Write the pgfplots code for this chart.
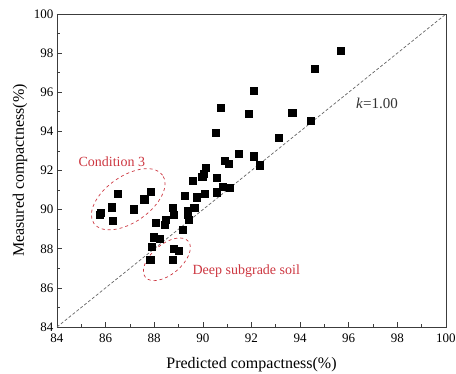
\documentclass[border=0pt]{standalone}
\usepackage{pgfplots}
\pgfplotsset{compat=1.18}
\usepackage{fontspec}
\setmainfont{Liberation Serif}
\usetikzlibrary{shapes.geometric}
\definecolor{annred}{RGB}{205,55,65}
\definecolor{axgray}{RGB}{60,60,60}
\begin{document}
\begin{tikzpicture}
\useasboundingbox (-57pt,-47pt) rectangle (399pt,327pt);
\begin{axis}[
  scale only axis, width=389pt, height=313pt,
  xmin=84, xmax=100, ymin=84, ymax=100,
  xtick={84,86,...,100}, ytick={84,86,...,100},
  minor tick num=1,
  tick pos=left, tick align=inside,
  major tick length=5pt, minor tick length=3pt,
  axis line style={axgray, line width=0.9pt},
  every tick/.style={axgray, line width=0.7pt},
  /pgf/number format/assume math mode=true,
  tick label style={font=\fontsize{13}{15}\selectfont},
  xticklabel style={yshift=-3pt},
  xlabel={Predicted compactness(\%)},
  ylabel={Measured compactness(\%)},
  label style={font=\fontsize{16}{18}\selectfont},
  xlabel style={at={(axis description cs:0.5,0)}, anchor=center, yshift=-38pt},
  ylabel style={at={(axis description cs:0,0.5)}, anchor=center, xshift=0pt, yshift=37pt},
  clip=false,
]
\addplot[gray!80!black, dashed, line width=0.7pt, dash pattern=on 3pt off 2pt] coordinates {(84,84) (100,100)};
\addplot[only marks, mark=square*, mark size=3.6pt, black] coordinates {
(95.67,98.11) (94.59,97.19) (92.09,96.08) (90.73,95.23) (91.87,94.89)
(93.67,94.96) (94.43,94.53) (90.52,93.94) (93.12,93.68) (91.46,92.86)
(92.08,92.73) (90.90,92.50) (91.05,92.35) (92.35,92.27) (90.13,92.15)
(89.97,91.69) (90.05,91.85) (90.57,91.65) (89.57,91.46) (90.08,90.83)
(90.58,90.89) (90.82,91.18) (91.09,91.14) (89.73,90.63) (89.24,90.72)
(89.64,90.09) (89.36,89.95) (89.36,89.73) (89.42,89.47) (89.17,88.96)
(88.75,90.10) (88.80,89.76) (88.47,89.47) (88.44,89.22) (88.06,89.34)
(87.98,88.59) (88.22,88.50) (87.91,88.11) (87.83,87.43) (88.80,88.01)
(88.99,87.90) (88.76,87.46)
(85.74,89.73) (85.80,89.86) (86.26,90.12) (86.30,89.42) (86.51,90.83)
(87.14,90.02) (87.59,90.53) (87.84,90.90)
};
\node[draw=annred, dashed, line width=0.7pt, ellipse, minimum width=84pt, minimum height=46pt, rotate=35, inner sep=0pt] at (axis cs:86.93,90.53) {};
\node[draw=annred, dashed, line width=0.7pt, ellipse, minimum width=56pt, minimum height=30pt, rotate=40, inner sep=0pt] at (axis cs:88.52,87.46) {};
\node[annred, anchor=west, font=\fontsize{14}{16}\selectfont, inner sep=0pt] at (axis cs:84.88,92.45) {Condition 3};
\node[annred, anchor=west, font=\fontsize{14}{16}\selectfont, inner sep=0pt] at (axis cs:89.57,86.83) {Deep subgrade soil};
\node[black!80, anchor=west, font=\fontsize{15}{17}\selectfont, inner sep=0pt] at (axis cs:96.30,95.43) {\textit{k}=1.00};
\end{axis}
\end{tikzpicture}
\end{document}
